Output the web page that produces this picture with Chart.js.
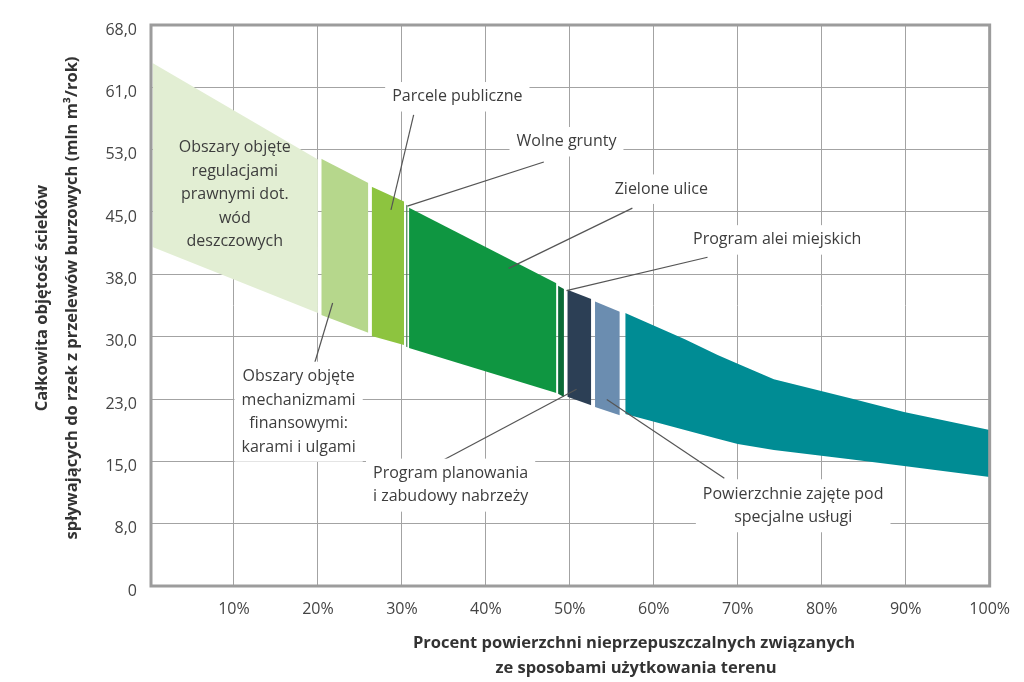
<!DOCTYPE html>
<html lang="pl">
<head>
<meta charset="utf-8">
<title>Całkowita objętość ścieków</title>
<script src="https://cdn.jsdelivr.net/npm/chart.js@4.4.1/dist/chart.umd.min.js"></script>
<style>
  html, body { margin: 0; padding: 0; background: #fff; }
  #wrap { width: 1024px; height: 682px; }
</style>
</head>
<body>
<div id="wrap"><canvas id="chart"></canvas></div>
<script>
// Segmenty pasa: x = % powierzchni, y = mln m3/rok
const segmentNames = [
    'Obszary objęte regulacjami prawnymi',
    'Obszary objęte mechanizmami finansowymi',
    'Parcele publiczne',
    'Wolne grunty',
    'Zielone ulice',
    'Program alei miejskich',
    'Program planowania i zabudowy nabrzeży',
    'Powierzchnie zajęte pod specjalne usługi',
    'Pozostałe'
];
const segmentColors = ['#e2eed3', '#b6d78c', '#8dc43f', '#3f7f4c', '#0f9641', '#0b6a36', '#2c3f55', '#6b8db0', '#008c94'];
const segmentX = [
    [0.3, 20.0],
    [20.4, 26.0],
    [26.4, 30.25],
    [30.5, 30.68],
    [30.85, 48.4],
    [48.6, 49.3],
    [49.7, 52.55],
    [53.0, 55.95],
    [56.6, 63.7, 67.6, 70.0, 74.3, 83.4, 89.8, 100]
];
const segmentTop = [
    [63.4, 51.7],
    [51.8, 48.85],
    [48.4, 46.6],
    [46.2, 46.1],
    [45.85, 36.7],
    [36.4, 36.0],
    [35.9, 34.8],
    [34.5, 33.25],
    [33.1, 29.9, 28.0, 26.95, 25.05, 22.75, 21.1, 18.9]
];
const segmentBottom = [
    [41.1, 33.1],
    [32.85, 30.7],
    [30.3, 29.2],
    [29.0, 28.95],
    [28.85, 23.4],
    [23.3, 22.9],
    [22.95, 21.9],
    [21.7, 20.7],
    [20.85, 18.9, 17.85, 17.2, 16.5, 15.35, 14.55, 13.2]
];

const yTickLabels = ['0', '8,0', '15,0', '23,0', '30,0', '38,0', '45,0', '53,0', '61,0', '68,0'];
const xTickLabels = ['', '10%', '20%', '30%', '40%', '50%', '60%', '70%', '80%', '90%', '100%'];

// Opisy i linie odniesienia (w jednostkach osi)
const noteTexts = [
    ['Obszary objęte', 'regulacjami', 'prawnymi dot.', 'wód', 'deszczowych'],
    ['Parcele publiczne'],
    ['Wolne grunty'],
    ['Zielone ulice'],
    ['Program alei miejskich'],
    ['Obszary objęte', 'mechanizmami', 'finansowymi:', 'karami i ulgami'],
    ['Program planowania', 'i zabudowy nabrzeży'],
    ['Powierzchnie zajęte pod', 'specjalne usługi']
];
const noteAt = [[10.1, 53.1], [36.6, 59.3], [49.6, 53.85], [60.9, 48.1], [74.7, 41.95], [17.7, 25.4], [35.8, 13.65], [76.6, 11.15]];
const noteBox = [false, true, true, true, true, true, true, true];
const leaderLines = [
    null,
    [[31.4, 57.1], [28.7, 45.6]],
    [[46.9, 51.4], [30.65, 46.05]],
    [[57.45, 45.8], [42.7, 38.5]],
    [[66.4, 39.85], [49.6, 35.8]],
    [[19.6, 27.0], [21.75, 34.3]],
    [[35.0, 15.3], [50.8, 23.85]],
    [[68.4, 13.05], [54.4, 22.6]]
];

const datasets = [];
segmentX.forEach((xs, i) => {
    datasets.push({
        label: segmentNames[i],
        data: xs.map((x, j) => ({ x: x, y: segmentTop[i][j] })),
        backgroundColor: segmentColors[i],
        borderColor: 'transparent',
        borderWidth: 0,
        pointRadius: 0,
        fill: '+1'
    });
    datasets.push({
        label: segmentNames[i] + ' (dół)',
        data: xs.map((x, j) => ({ x: x, y: segmentBottom[i][j] })),
        borderColor: 'transparent',
        borderWidth: 0,
        pointRadius: 0,
        fill: false
    });
});

const FONT = '"Open Sans", "Noto Sans", sans-serif';
const LINE_H = 23.5;

const extras = {
    id: 'extras',
    afterDatasetsDraw(chart) {
        const { ctx, chartArea: a, scales: { x, y } } = chart;
        ctx.save();

        // ramka wykresu
        ctx.strokeStyle = '#9c9c9c';
        ctx.lineWidth = 3;
        ctx.strokeRect(a.left + 1, a.top, a.right - a.left - 1, a.bottom - a.top);

        // linie odniesienia
        ctx.strokeStyle = '#555';
        ctx.lineWidth = 1.2;
        leaderLines.forEach(l => {
            if (!l) return;
            ctx.beginPath();
            ctx.moveTo(x.getPixelForValue(l[0][0]), y.getPixelForValue(l[0][1]));
            ctx.lineTo(x.getPixelForValue(l[1][0]), y.getPixelForValue(l[1][1]));
            ctx.stroke();
        });

        // opisy
        ctx.font = '16px ' + FONT;
        ctx.textAlign = 'center';
        ctx.textBaseline = 'middle';
        noteTexts.forEach((lines, i) => {
            const cx = x.getPixelForValue(noteAt[i][0]);
            const cy = y.getPixelForValue(noteAt[i][1]);
            if (noteBox[i]) {
                const w = Math.max(...lines.map(t => ctx.measureText(t).width)) + 14;
                const h = lines.length * LINE_H + 6;
                ctx.fillStyle = '#fff';
                ctx.fillRect(cx - w / 2, cy - LINE_H / 2 - 3, w, h);
            }
            ctx.fillStyle = '#3d3d3d';
            lines.forEach((t, j) => ctx.fillText(t, cx, cy + j * LINE_H));
        });

        // tytuły osi
        ctx.font = 'bold 16.5px ' + FONT;
        ctx.fillStyle = '#333';
        ctx.fillText('Procent powierzchni nieprzepuszczalnych związanych', 634, 643);
        ctx.fillText('ze sposobami użytkowania terenu', 636, 668);
        ctx.translate(42, 298);
        ctx.rotate(-Math.PI / 2);
        ctx.fillText('Całkowita objętość ścieków', 0, 0);
        ctx.fillText('spływających do rzek z przelewów burzowych (mln m³/rok)', 0, 30);
        ctx.restore();
    }
};

const chart = new Chart(document.getElementById('chart'), {
    type: 'line',
    data: { datasets: datasets },
    options: {
        responsive: true,
        maintainAspectRatio: false,
        animation: false,
        layout: { padding: { top: 25, right: 31, left: 0, bottom: 0 } },
        plugins: {
            legend: { display: false },
            tooltip: { enabled: false }
        },
        scales: {
            x: {
                type: 'linear',
                min: 0,
                max: 100,
                afterFit: s => { s.height = 96; },
                afterBuildTicks: s => { s.ticks = xTickLabels.map((_, i) => ({ value: i * 10 })); },
                grid: { color: '#a3a3a3', lineWidth: 1, drawTicks: false },
                border: { display: false },
                ticks: {
                    padding: 14,
                    color: '#444',
                    font: { family: FONT, size: 16 },
                    maxRotation: 0,
                    callback: (v, i) => xTickLabels[i]
                }
            },
            y: {
                min: 0,
                max: 68,
                afterFit: s => { s.width = 150; },
                afterBuildTicks: s => { s.ticks = yTickLabels.map((_, i) => ({ value: i * 68 / 9 })); },
                grid: { color: '#a3a3a3', lineWidth: 1, drawTicks: false },
                border: { display: false },
                ticks: {
                    padding: 13,
                    labelOffset: 5,
                    color: '#444',
                    font: { family: FONT, size: 16 },
                    callback: (v, i) => yTickLabels[i]
                }
            }
        }
    },
    plugins: [extras]
});
</script>
</body>
</html>
